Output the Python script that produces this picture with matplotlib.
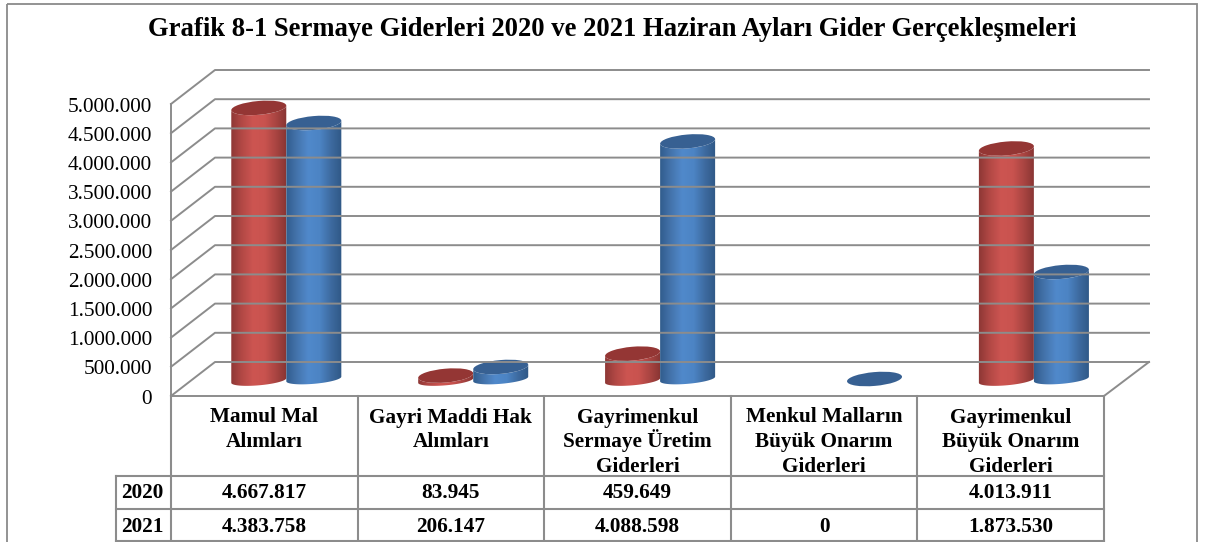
import numpy as np
import matplotlib
matplotlib.use("Agg")
import matplotlib.pyplot as plt
from matplotlib.colors import LinearSegmentedColormap
from matplotlib.lines import Line2D
from matplotlib.patches import Ellipse, Rectangle
from matplotlib.path import Path
from matplotlib.transforms import Affine2D, IdentityTransform

TITLE = "Grafik 8-1 Sermaye Giderleri 2020 ve 2021 Haziran Ayları Gider Gerçekleşmeleri"
categories = ["Mamul Mal\nAlımları", "Gayri Maddi Hak\nAlımları",
              "Gayrimenkul\nSermaye Üretim\nGiderleri",
              "Menkul Malların\nBüyük Onarım\nGiderleri",
              "Gayrimenkul\nBüyük Onarım\nGiderleri"]
years = ["2020", "2021"]
values_2020 = [4667817, 83945, 459649, None, 4013911]
values_2021 = [4383758, 206147, 4088598, 0, 1873530]
y_ticks = list(range(0, 5000001, 500000))

W, H = 1208, 542
plt.rcParams["font.family"] = ["Liberation Serif", "DejaVu Serif"]
fig = plt.figure(figsize=(W / 100, H / 100), dpi=100, facecolor="white")
PX = Affine2D().scale(1, -1).translate(0, H)   # pixel coordinates with y downward

L, R, T, B = 171, 1104, 104, 396
ax = fig.add_axes([L / W, 1 - B / H, (R - L) / W, (B - T) / H])
ax.set_xlim(0, 5)
ax.set_ylim(0, 5000000)
ax.axis("off")

GRID = "#8c8c8c"
DX, DY = 44, 34   # depth of the 3D box
BAR_DX = 22
BAR_DY = {"2020": 15.5, "2021": 17}
FS = 15.3


def dot(v):
    return "" if v is None else f"{v:,}".replace(",", ".")


def line(xs, ys, lw=1.4, color=GRID, z=1):
    fig.add_artist(Line2D(xs, ys, transform=PX, color=color, lw=lw, zorder=z,
                          solid_capstyle="projecting"))


def txt(x, y, s, **kw):
    fig.text(x, y, s, transform=PX, color="black", **kw)


# outer frame
fig.add_artist(Rectangle((7, 4), 1190, 560, transform=PX, fill=False,
                         ec="#8a8a8a", lw=1.3, zorder=0))
txt(612, 29, TITLE, ha="center", va="center", fontsize=19.15, fontweight="bold")

# box walls and gridlines
for t in y_ticks:
    py = H - ax.transData.transform((0, t))[1]
    line([L, L + DX, R + DX + 1], [py, py - DY, py - DY])
    txt(152, py + 3, dot(t), ha="right", va="center", fontsize=FS)
line([L, L], [T, B])
line([L, R], [B, B])
line([R, R + DX + 1], [B, B - DY])

# cylinders
cm_red = LinearSegmentedColormap.from_list("r", ["#8a3634", "#b24845", "#cd5551", "#c9534f", "#a84441", "#833331"])
cm_blu = LinearSegmentedColormap.from_list("b", ["#2f5a8a", "#4473ab", "#5089cb", "#4c84c4", "#3d6a9f", "#2e5683"])
grad = np.linspace(0, 1, 256)[None, :]
A, Bb, TH = 27.6, 6.9, np.radians(5)
ts = np.linspace(np.pi, 2 * np.pi, 60)


def arc(b):
    return (A * np.cos(ts) * np.cos(TH) - b * np.sin(ts) * np.sin(TH),
            A * np.cos(ts) * np.sin(TH) + b * np.sin(ts) * np.cos(TH))


def cylinder(i, xc, val, year, cmap, top_col, z):
    if val is None:
        return
    cx, y0 = ax.transData.transform((xc, 0))
    _, y1 = ax.transData.transform((xc, val))
    cx += BAR_DX + 0.3 * i
    y0 += BAR_DY[year]
    y1 += BAR_DY[year] - 0.6 * i * (val > 1000000)
    if val > 0:
        bx, by = arc(4.8)
        tx, ty = arc(Bb)
        px = np.r_[cx + bx, (cx + tx)[::-1]]
        py = np.r_[y0 + by, (y1 + ty)[::-1]]
        im = ax.imshow(grad, cmap=cmap, aspect="auto", interpolation="bilinear",
                       extent=(cx - A - 1, cx + A + 1, y0 - 12, y1 + 12),
                       transform=IdentityTransform(), zorder=z)
        im.set_clip_box(fig.bbox)
        im.set_clip_path(Path(np.c_[px, py]), transform=IdentityTransform())
    ax.add_patch(Ellipse((cx, y1), 2 * A, 2 * Bb, angle=5, fc=top_col, ec="none",
                         transform=IdentityTransform(), zorder=z + 0.5, clip_on=False))


for i, (a, b) in enumerate(zip(values_2020, values_2021)):
    cylinder(i, i + 0.5 - 0.1475, a, "2020", cm_red, "#943634", 3 + 2 * i)
    cylinder(i, i + 0.5 + 0.1475, b, "2021", cm_blu, "#376092", 4 + 2 * i)
ax.set_xlim(0, 5)
ax.set_ylim(0, 5000000)

# data table
edges = [ax.transData.transform((i, 0))[0] for i in range(6)]
TBL_L, R1, R2, R3 = 116, 476, 509, 541
for x in edges:
    line([x, x], [B, R3], lw=1.5)
line([TBL_L, TBL_L], [R1, R3], lw=1.5)
line([TBL_L, R], [R1, R1], lw=1.5)
line([TBL_L, R], [R2, R2], lw=1.5)
line([TBL_L, R], [R3, R3], lw=1.5)

BASELINES = [422.5, 447, 471.5]
for i, c in enumerate(categories):
    xc = ax.transData.transform((i + 0.5, 0))[0]
    for part, by in zip(c.split("\n"), BASELINES):
        txt(xc, by, part, ha="center", va="baseline", fontsize=FS, fontweight="bold")
    txt(xc, 493.5, dot(values_2020[i]), ha="center", va="center", fontsize=FS, fontweight="bold")
    txt(xc, 526.5, dot(values_2021[i]), ha="center", va="center", fontsize=FS, fontweight="bold")
txt(142, 493.5, years[0], ha="center", va="center", fontsize=FS, fontweight="bold")
txt(142, 526.5, years[1], ha="center", va="center", fontsize=FS, fontweight="bold")

fig.savefig("out.png", dpi=100, facecolor="white")
